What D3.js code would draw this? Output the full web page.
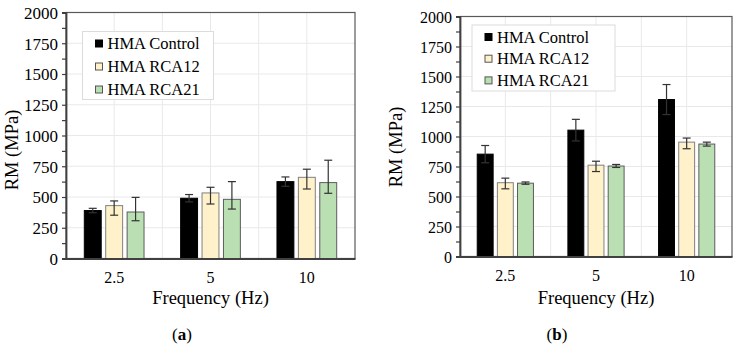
<!DOCTYPE html>
<html>
<head>
<meta charset="utf-8">
<script src="https://cdn.jsdelivr.net/npm/d3@7"></script>
<style>
  body { margin: 0; background: #fff; }
</style>
</head>
<body>
<svg id="fig" width="739" height="349"></svg>
<script>
// categories and series
var categories = ["2.5", "5", "10"];
var seriesNames = ["HMA Control", "HMA RCA12", "HMA RCA21"];
var yTickLabels = [0, 250, 500, 750, 1000, 1250, 1500, 1750, 2000];

// (a) values, MPa
var aControl = [390, 490, 625];
var aControlUp = [18, 30, 38];
var aControlDown = [18, 30, 38];
var aRca12 = [430, 533, 660];
var aRca12Up = [38, 46, 66];
var aRca12Down = [78, 90, 95];
var aRca21 = [378, 481, 617];
var aRca21Up = [119, 144, 182];
var aRca21Down = [71, 79, 87];

// (b) values, MPa
var bControl = [853, 1053, 1308];
var bControlUp = [72, 90, 125];
var bControlDown = [72, 90, 125];
var bRca12 = [615, 761, 953];
var bRca12Up = [38, 33, 34];
var bRca12Down = [51, 53, 55];
var bRca21 = [611, 754, 937];
var bRca21Up = [10, 13, 16];
var bRca21Down = [9, 12, 17];

var fills = ["#000000", "#fff1c9", "#badfb2"];
var strokes = ["#000000", "#808080", "#5c5c5c"];
var FONT = "'Liberation Serif'";

var svg = d3.select("#fig");

function drawChart(opt) {
    var x0 = d3.scaleBand()
        .domain(categories)
        .range([opt.left, opt.right]);

    var x1 = d3.scaleBand()
        .domain(seriesNames)
        .range([0, x0.bandwidth()])
        .paddingInner(0.21)
        .paddingOuter(0.855);

    var y = d3.scaleLinear()
        .domain([0, 2000])
        .range([opt.bottom, opt.top]);

    var g = svg.append("g");

    // gridlines
    g.selectAll("line.hgrid")
        .data(yTickLabels.slice(1))
        .enter()
        .append("line")
        .attr("x1", opt.left).attr("x2", opt.right)
        .attr("y1", d => y(d)).attr("y2", d => y(d))
        .attr("stroke", "#e9e9e9").attr("stroke-width", 1);

    var vgrid = [];
    categories.forEach(function(c, i) {
        vgrid.push(x0(c) + x0.bandwidth() / 2);
        if (i > 0) vgrid.push(x0(c));
    });
    g.selectAll("line.vgrid")
        .data(vgrid)
        .enter()
        .append("line")
        .attr("x1", d => d).attr("x2", d => d)
        .attr("y1", opt.top).attr("y2", opt.bottom)
        .attr("stroke", "#e9e9e9").attr("stroke-width", 1);

    // plot border
    g.append("rect")
        .attr("x", opt.left).attr("y", opt.top)
        .attr("width", opt.right - opt.left)
        .attr("height", opt.bottom - opt.top)
        .attr("fill", "none")
        .attr("stroke", "#595959").attr("stroke-width", 1.2);

    // bars
    var rows = [];
    opt.series.forEach(function(s, si) {
        categories.forEach(function(c, ci) {
            rows.push({ cat: c, name: seriesNames[si], si: si,
                        v: s.v[ci], up: s.up[ci], down: s.down[ci] });
        });
    });

    g.selectAll("rect.bar")
        .data(rows)
        .enter()
        .append("rect")
        .attr("x", d => x0(d.cat) + x1(d.name))
        .attr("y", d => y(d.v))
        .attr("width", x1.bandwidth())
        .attr("height", d => y(0) - y(d.v))
        .attr("fill", d => fills[d.si])
        .attr("stroke", d => strokes[d.si])
        .attr("stroke-width", 1);

    // error bars
    var cap = 4;
    rows.forEach(function(d) {
        var cx = x0(d.cat) + x1(d.name) + x1.bandwidth() / 2;
        var yt = y(d.v + d.up), yb = y(d.v - d.down);
        var col = "#333333";
        g.append("line").attr("x1", cx).attr("x2", cx).attr("y1", yt).attr("y2", yb)
            .attr("stroke", col).attr("stroke-width", 1.2);
        g.append("line").attr("x1", cx - cap).attr("x2", cx + cap).attr("y1", yt).attr("y2", yt)
            .attr("stroke", col).attr("stroke-width", 1.2);
        g.append("line").attr("x1", cx - cap).attr("x2", cx + cap).attr("y1", yb).attr("y2", yb)
            .attr("stroke", col).attr("stroke-width", 1.2);
    });

    // y axis
    var yAxis = d3.axisLeft(y)
        .tickValues(d3.range(0, 2001, 125))
        .tickSize(4)
        .tickFormat(d => (d % 250 === 0 ? d : ""));
    var ya = g.append("g")
        .attr("transform", `translate(${opt.left},0)`)
        .call(yAxis);
    ya.select(".domain").attr("stroke", "#404040").attr("stroke-width", 1.8);
    ya.selectAll(".tick line").attr("stroke", "#404040").attr("stroke-width", 1.2);
    ya.selectAll(".tick text")
        .attr("x", -8)
        .attr("dy", "0.35em")
        .attr("fill", "#000")
        .style("font-family", FONT)
        .style("font-size", opt.yTickSize);

    // x axis
    var xAxis = d3.axisBottom(x0).tickSize(0).tickPadding(13);
    var xa = g.append("g")
        .attr("transform", `translate(0,${opt.bottom})`)
        .call(xAxis);
    xa.select(".domain").attr("stroke", "#404040").attr("stroke-width", 1.8);
    xa.selectAll(".tick text")
        .attr("fill", "#000")
        .style("font-family", FONT)
        .style("font-size", "16px");

    // axis titles
    g.append("text")
        .attr("text-anchor", "middle")
        .attr("x", (opt.left + opt.right) / 2)
        .attr("y", 304)
        .style("font-family", FONT)
        .style("font-size", "18.5px")
        .text("Frequency (Hz)");

    g.append("text")
        .attr("text-anchor", "middle")
        .attr("transform", `translate(${opt.yTitleX},${opt.yTitleY}) rotate(-90)`)
        .style("font-family", FONT)
        .style("font-size", "18.5px")
        .text("RM (MPa)");

    // legend
    var lg = g.append("g");
    lg.append("rect")
        .attr("x", opt.legend.x).attr("y", opt.legend.y)
        .attr("width", opt.legend.w).attr("height", opt.legend.h)
        .attr("fill", "#fff")
        .attr("stroke", "#dcdcdc").attr("stroke-width", 1);
    seriesNames.forEach(function(name, i) {
        var cy = opt.legend.y + opt.legend.row0 + i * opt.legend.step;
        lg.append("rect")
            .attr("x", opt.legend.x + 13).attr("y", cy - 3.5)
            .attr("width", 7).attr("height", 7)
            .attr("fill", fills[i])
            .attr("stroke", i === 0 ? "#000" : "#555").attr("stroke-width", 1);
        lg.append("text")
            .attr("x", opt.legend.x + 25).attr("y", cy)
            .attr("dy", "0.35em")
            .style("font-family", FONT)
            .style("font-size", "16.5px")
            .text(name);
    });

    // caption
    var cap2 = svg.append("text")
        .attr("text-anchor", "middle")
        .attr("x", opt.captionX).attr("y", 340)
        .style("font-family", FONT)
        .style("font-size", "17px");
    cap2.append("tspan").text("(");
    cap2.append("tspan").style("font-weight", "bold").text(opt.caption);
    cap2.append("tspan").text(")");
}

drawChart({
    left: 66, right: 355, top: 12.5, bottom: 258.5,
    yTitleX: 18, yTitleY: 150, yTickSize: "17px",
    legend: { x: 82.5, y: 31.5, w: 131, h: 68, row0: 12, step: 23 },
    captionX: 182, caption: "a",
    series: [
        { v: aControl, up: aControlUp, down: aControlDown },
        { v: aRca12, up: aRca12Up, down: aRca12Down },
        { v: aRca21, up: aRca21Up, down: aRca21Down }
    ]
});

drawChart({
    left: 460, right: 732, top: 16.5, bottom: 256.5,
    yTitleX: 402, yTitleY: 147, yTickSize: "16px",
    legend: { x: 472, y: 25, w: 143, h: 66, row0: 12, step: 21.7 },
    captionX: 557, caption: "b",
    series: [
        { v: bControl, up: bControlUp, down: bControlDown },
        { v: bRca12, up: bRca12Up, down: bRca12Down },
        { v: bRca21, up: bRca21Up, down: bRca21Down }
    ]
});
</script>
</body>
</html>
